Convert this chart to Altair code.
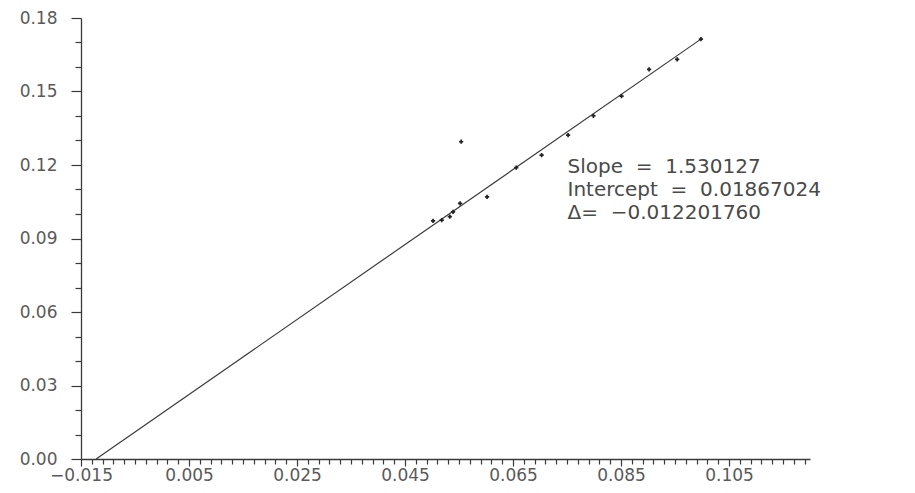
import altair as alt
import pandas as pd

# data points
x_vals = [0.0502, 0.0518, 0.0533, 0.0539, 0.0552, 0.0554, 0.0602, 0.0656,
          0.0703, 0.0752, 0.0799, 0.0851, 0.0902, 0.0954, 0.0998]
y_vals = [0.0972, 0.0975, 0.0989, 0.1009, 0.1043, 0.1295, 0.1070, 0.1189,
          0.1240, 0.1322, 0.1401, 0.1481, 0.1590, 0.1631, 0.1714]

slope = 1.530127
intercept = 0.01867024
delta = -0.012201760

x_ticks = [round(-0.015 + 0.002 * i, 3) for i in range(68)]
y_ticks = [round(0.01 * i, 2) for i in range(19)]

nb = "\u00a0"
annot_lines = [
    f"Slope{nb*2}={nb*2}1.530127",
    f"Intercept{nb*2}={nb*2}0.01867024",
    f"{nb}\u0394={nb*2}\u22120.012201760",
]
annot_x = [0.0751]
annot_y = [0.1233]

pts = pd.DataFrame({"x": x_vals, "y": y_vals})
fit_x = [delta, max(x_vals)]
fit = pd.DataFrame({"x": fit_x, "y": [slope * v + intercept for v in fit_x]})
ann = pd.DataFrame({"x": annot_x, "y": annot_y, "t": [annot_lines]})

ink = "#3a3a3a"
lab = "#5a5a5a"

xmaj = "abs((datum.value + 0.015) / 0.02 - round((datum.value + 0.015) / 0.02)) < 0.001"
ymaj = "abs(datum.value / 0.03 - round(datum.value / 0.03)) < 0.001"

xscale = alt.Scale(domain=[-0.015, 0.12], nice=False, zero=False)
yscale = alt.Scale(domain=[0.0, 0.18], nice=False, zero=False)

xaxis = alt.Axis(
    values=x_ticks, tickCount=500, title=None, grid=False, domainColor=ink, domainWidth=1.3,
    tickColor=ink, tickWidth=1.2,
    tickSize={"condition": {"test": xmaj, "value": 7}, "value": 5},
    labelExpr=f"({xmaj}) ? format(datum.value, '.3f') : ''",
    labelFont="DejaVu Sans", labelFontSize=17, labelColor=lab,
    labelPadding=1, labelOverlap=False, labelFlush=False, labelBound=False,
)
yaxis = alt.Axis(
    values=y_ticks, tickCount=500, title=None, grid=False, domainColor=ink, domainWidth=1.3,
    tickColor=ink, tickWidth=1.2,
    tickSize={"condition": {"test": ymaj, "value": 10}, "value": 6},
    labelExpr=f"({ymaj}) ? format(datum.value, '.2f') : ''",
    labelFont="DejaVu Sans", labelFontSize=17, labelColor=lab,
    labelPadding=14, labelOverlap=False, labelFlush=False, labelBound=False,
)

line = alt.Chart(fit).mark_line(color=ink, strokeWidth=1.2).encode(
    x=alt.X("x:Q", scale=xscale, axis=xaxis),
    y=alt.Y("y:Q", scale=yscale, axis=yaxis),
)
points = alt.Chart(pts).mark_point(shape="cross", filled=True, size=18, color="#222", opacity=1).encode(
    x="x:Q", y="y:Q"
)
text = alt.Chart(ann).mark_text(
    align="left", baseline="top", font="DejaVu Sans", fontSize=20, color="#4a4a4a",
    lineHeight=23,
).encode(x="x:Q", y="y:Q", text="t")

chart = alt.layer(line, points, text).properties(
    width=729, height=441,
    padding={"left": 81, "top": 18, "right": 105, "bottom": 34},
    autosize=alt.AutoSizeParams(type="none"),
    background="white",
).configure_view(stroke=None)

chart.save("out.html", embed_options={"renderer": "svg", "actions": False})
